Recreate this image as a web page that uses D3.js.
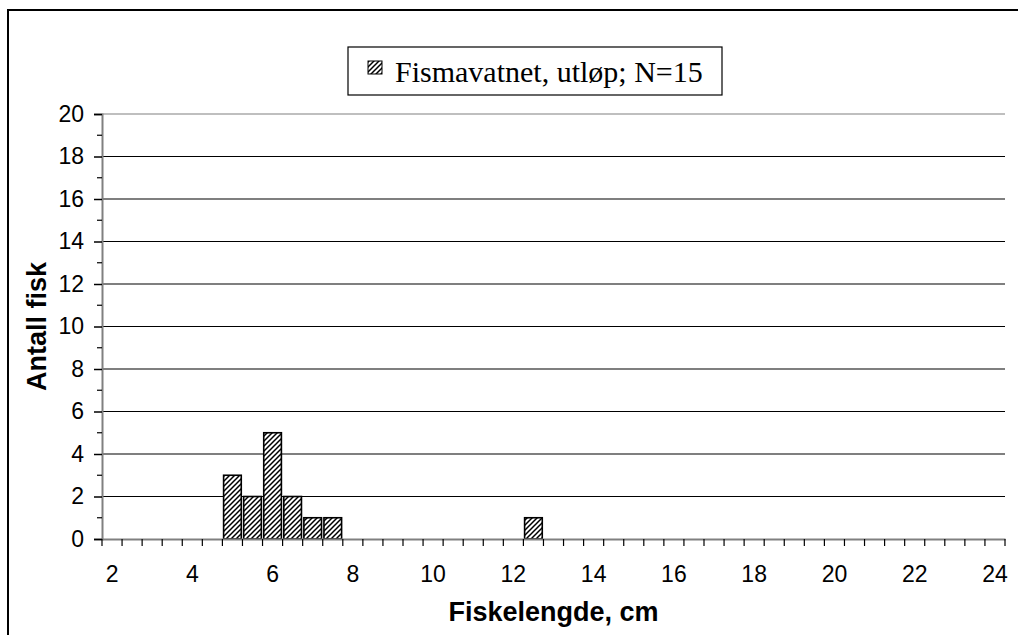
<!DOCTYPE html>
<html>
<head>
<meta charset="utf-8">
<script src="https://cdn.jsdelivr.net/npm/d3@7"></script>
<style>
  body { margin: 0; background: #fff; }
  svg { display: block; }
  .tick text { font-family: "Liberation Sans", Arial, sans-serif; font-size: 23px; fill: #000; }
  .axis-title { font-family: "Liberation Sans", Arial, sans-serif; font-size: 27px; font-weight: bold; }
  .legend-text { font-family: "Liberation Serif", "Times New Roman", serif; font-size: 30px; }
</style>
</head>
<body>
<div id="wrapper"></div>
<script>
// length classes on the x axis (cm), every half centimetre
const lengths = [2, 2.5, 3, 3.5, 4, 4.5, 5, 5.5, 6, 6.5, 7, 7.5, 8, 8.5, 9, 9.5,
  10, 10.5, 11, 11.5, 12, 12.5, 13, 13.5, 14, 14.5, 15, 15.5, 16, 16.5, 17, 17.5,
  18, 18.5, 19, 19.5, 20, 20.5, 21, 21.5, 22, 22.5, 23, 23.5, 24]
// classes with fish, and the number of fish in each
const fishLengths = [5, 5.5, 6, 6.5, 7, 7.5, 12.5]
const fishCounts = [3, 2, 5, 2, 1, 1, 1]
const xTickLabels = [2, 4, 6, 8, 10, 12, 14, 16, 18, 20, 22, 24]
const yTicks = [0, 2, 4, 6, 8, 10, 12, 14, 16, 18, 20]
const yMinorTicks = [1, 3, 5, 7, 9, 11, 13, 15, 17, 19]
const seriesName = "Fismavatnet, utløp; N=15"

const dataset = fishLengths.map((d, i) => ({length: d, count: fishCounts[i]}))

const width = 1018
const height = 635
const plot = {left: 102, right: 1005, top: 114, bottom: 539}

const svg = d3.select("#wrapper")
  .append("svg")
    .attr("width", width)
    .attr("height", height)

// hatch pattern ("/" lines)
const defs = svg.append("defs")
const pattern = defs.append("pattern")
    .attr("id", "hatch")
    .attr("patternUnits", "userSpaceOnUse")
    .attr("width", 5)
    .attr("height", 5)
pattern.append("rect")
    .attr("width", 5)
    .attr("height", 5)
    .attr("fill", "#fff")
pattern.append("path")
    .attr("d", "M-1,1 L1,-1 M0,5 L5,0 M4,6 L6,4")
    .attr("stroke", "#000")
    .attr("stroke-width", 1.5)

// outer frame
svg.append("rect")
    .attr("x", 8)
    .attr("y", 10)
    .attr("width", 1030)
    .attr("height", 650)
    .attr("fill", "none")
    .attr("stroke", "#000")
    .attr("stroke-width", 2)

// scales
const xScale = d3.scaleBand()
  .domain(lengths)
  .range([plot.left, plot.right])
  .padding(0)

const xBarScale = d3.scaleBand()
  .domain(lengths)
  .range([plot.left, plot.right])
  .paddingInner(0.12)
  .paddingOuter(0.06)

const yScale = d3.scaleLinear()
  .domain([0, 20])
  .range([plot.bottom, plot.top])

// gridlines
svg.append("g")
  .selectAll("line")
  .data(yTicks.filter(d => d > 0))
  .join("line")
    .attr("x1", plot.left)
    .attr("x2", plot.right)
    .attr("y1", d => yScale(d))
    .attr("y2", d => yScale(d))
    .attr("stroke", d => d === 20 ? "#808080" : "#000")
    .attr("stroke-width", 1.2)

// bars
svg.append("g")
  .selectAll("rect")
  .data(dataset)
  .join("rect")
    .attr("x", d => xBarScale(d.length))
    .attr("width", xBarScale.bandwidth())
    .attr("y", d => yScale(d.count))
    .attr("height", d => yScale(0) - yScale(d.count))
    .attr("fill", "url(#hatch)")
    .attr("stroke", "#000")
    .attr("stroke-width", 1.6)

// y axis
const yAxis = svg.append("g")
  .attr("transform", `translate(${plot.left},0)`)
  .call(d3.axisLeft(yScale).tickValues(yTicks).tickSize(8).tickPadding(10))
yAxis.select(".domain").attr("stroke", "#808080").attr("stroke-width", 2)
yAxis.selectAll(".tick line").attr("stroke", "#000").attr("stroke-width", 1.5)

svg.append("g")
  .selectAll("line")
  .data(yMinorTicks)
  .join("line")
    .attr("x1", plot.left - 5)
    .attr("x2", plot.left)
    .attr("y1", d => yScale(d))
    .attr("y2", d => yScale(d))
    .attr("stroke", "#000")
    .attr("stroke-width", 1.2)

// x axis
const xAxis = svg.append("g")
  .attr("transform", `translate(0,${plot.bottom})`)
  .call(d3.axisBottom(xScale).tickValues(xTickLabels).tickSize(0).tickPadding(27))
xAxis.select(".domain").attr("stroke", "#808080").attr("stroke-width", 2)

svg.append("g")
  .selectAll("line")
  .data(lengths.map(d => xScale(d)).concat([plot.right]))
  .join("line")
    .attr("x1", d => d)
    .attr("x2", d => d)
    .attr("y1", plot.bottom)
    .attr("y2", plot.bottom + 7)
    .attr("stroke", "#000")
    .attr("stroke-width", 1.2)

// axis titles
svg.append("text")
    .attr("class", "axis-title")
    .attr("x", (plot.left + plot.right) / 2)
    .attr("y", 621)
    .attr("text-anchor", "middle")
    .text("Fiskelengde, cm")

svg.append("text")
    .attr("class", "axis-title")
    .attr("transform", `translate(46,${(plot.top + plot.bottom) / 2}) rotate(-90)`)
    .attr("text-anchor", "middle")
    .text("Antall fisk")

// legend
const legend = svg.append("g")
legend.append("rect")
    .attr("x", 348)
    .attr("y", 47)
    .attr("width", 374)
    .attr("height", 48)
    .attr("fill", "#fff")
    .attr("stroke", "#000")
    .attr("stroke-width", 1.2)
legend.append("rect")
    .attr("x", 368)
    .attr("y", 61)
    .attr("width", 14)
    .attr("height", 13)
    .attr("fill", "url(#hatch)")
    .attr("stroke", "#000")
    .attr("stroke-width", 1)
legend.append("text")
    .attr("class", "legend-text")
    .attr("x", 395)
    .attr("y", 82)
    .text(seriesName)
</script>
</body>
</html>
